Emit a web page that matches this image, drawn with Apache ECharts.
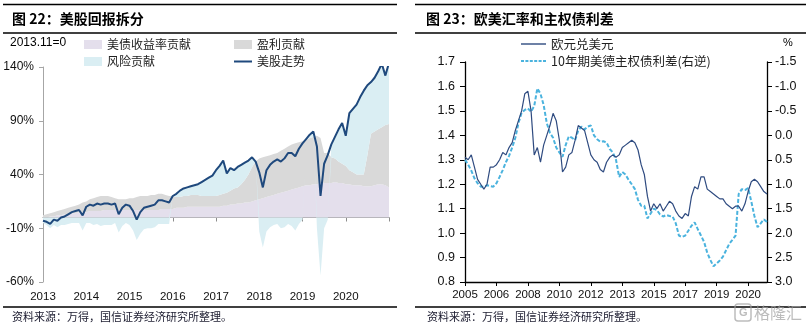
<!DOCTYPE html>
<html><head><meta charset="utf-8">
<script src="https://cdn.jsdelivr.net/npm/echarts@6/dist/echarts.min.js"></script>
<style>html,body{margin:0;padding:0;background:#fff}#c{width:808px;height:326px}</style>
</head><body><div id="c"></div>
<script>
// ---------- Left chart: 美股回报拆分 (monthly, 2013.11 = 0) ----------
const leftYears = ['2013','2014','2015','2016','2017','2018','2019','2020'];
const bondContrib = [0,0,1,1,2,2,3,3,4,4,5,5,5,
 6,6,6,6,7,7,7,7,7,7,7,7,
 7,7,7,7,7,7,7,7,8,8,8,8,
 9,9,9,10,10,10,10,10,10,10,10,10,
 10,11,11,12,12,13,13,14,14,15,16,17,
 18,19,20,21,22,23,24,25,26,27,28,29,
 30,30,31,31,32,32,32,32,33,32,32,31,
 31,30,30,30,29,29,29,30,31,31,30,28];
const earnContrib = [2,3,3,4,4,5,5,6,6,7,7,9,10,
 11,12,13,14,13,13,12,11,10,10,10,11,
 11,12,13,13,13,14,14,15,14,13,12,12,
 10,10,11,10,11,11,11,10,10,10,10,10,
 11,11,12,13,15,15,18,21,26,32,36,38,
 38,38,38,38,38,39,40,41,42,42,42,42,
 42,44,44,45,42,28,28,24,22,20,18,17,
 13,12,10,10,11,29,49,50,51,53,56,59];
const riskContrib = [-5,-7,-10,-7,-9,-7,-7,-6,-5,-5,-5,-12,-5,
 -5,-7,-6,-8,-7,-7,-7,-5,-14,-8,-5,-7,
 -12,-21,-15,-11,-10,-10,-9,-6,-6,-6,-6,0,
 3,6,7,8,8,9,10,13,15,17,19,24,
 27,31,18,21,17,19,18,16,13,9,0,-13,
 -28,-13,-9,-7,-6,-10,-9,-6,-8,-12,-6,-2,
 1,3,5,-10,-54,-10,-2,12,20,30,38,28,
 53,59,65,72,78,65,48,50,54,59,46,57];
const stockTrend = [-3,-4,-6,-2,-3,0,1,3,5,6,7,2,10,
 12,11,13,12,13,13,12,13,3,9,12,11,
 6,-2,5,9,10,11,12,16,16,15,14,20,
 22,25,27,28,29,30,31,33,35,37,39,44,
 48,53,41,46,44,47,49,51,53,56,52,42,
 28,44,49,52,54,52,55,60,60,57,64,69,
 73,77,80,66,20,50,58,68,75,82,88,76,
 97,101,105,112,118,123,126,130,136,143,132,144];

// ---------- Right chart: 欧美汇率和主权债利差 ----------
const rightYears = ['2005','2006','2008','2010','2012','2013','2015','2017','2019','2020'];
const eurUsd = [1.31,1.30,1.32,1.27,1.22,1.20,1.18,1.20,1.27,1.27,
 1.28,1.30,1.33,1.32,1.35,1.37,1.42,1.46,1.50,1.57,
 1.58,1.50,1.32,1.35,1.29,1.36,1.40,1.44,1.49,1.46,
 1.38,1.25,1.27,1.32,1.33,1.38,1.44,1.43,1.42,1.37,
 1.32,1.30,1.29,1.26,1.25,1.29,1.31,1.32,1.31,1.32,
 1.35,1.36,1.37,1.38,1.37,1.34,1.28,1.24,1.15,1.09,
 1.12,1.10,1.12,1.09,1.11,1.13,1.12,1.09,1.07,1.06,
 1.08,1.07,1.15,1.19,1.18,1.23,1.23,1.18,1.17,1.16,
 1.15,1.14,1.14,1.12,1.11,1.10,1.11,1.11,1.09,1.12,
 1.17,1.21,1.22,1.21,1.19,1.17,1.16];
const spread = [0.50,0.60,0.72,0.88,0.98,1.05,1.05,1.02,1.04,1.05,
 0.98,0.85,0.71,0.55,0.42,0.25,0.05,-0.25,-0.46,-0.52,
 -0.55,-0.48,-0.60,-0.96,-0.85,-0.62,-0.25,-0.05,0.05,0.25,
 0.35,0.44,0.20,0.02,0.05,0.10,-0.10,-0.18,-0.12,-0.18,
 -0.20,0.00,0.08,0.13,0.12,0.15,0.28,0.35,0.50,0.85,
 0.75,0.80,0.91,1.00,1.10,1.32,1.44,1.44,1.70,1.60,
 1.50,1.53,1.62,1.66,1.63,1.65,1.66,1.80,2.05,2.08,
 2.05,1.95,1.85,1.78,1.92,2.05,2.18,2.40,2.55,2.68,
 2.62,2.56,2.48,2.35,2.22,2.14,2.05,1.20,1.10,1.12,
 1.08,1.35,1.65,1.88,1.80,1.72,1.77];

const leftCats = stockTrend.map((_, i) => 'L' + i);
const rightCats = eurUsd.map((_, i) => 'R' + i);

const CJK = '"Noto Sans CJK SC", sans-serif';
const LAT = '"Liberation Sans", Arial, sans-serif';
const C_BOND = '#e4dfec', C_EARN = '#d9d9d9', C_RISK = '#daeef3', C_STOCK = '#1f497d';
const C_EUR = '#2f4b80', C_SPR = '#4bb3de';

const ICON_LINE_L = 'path://M0,0h18v2h-18z';
const ICON_LINE_R = 'path://M0,0h25v1.4h-25z';
const ICON_DASH_R = 'path://M0,0h3v2h-3z M4.4,0h3v2h-3z M8.8,0h3v2h-3z M13.2,0h3v2h-3z M17.6,0h3v2h-3z M22,0h3v2h-3z';

const chart = echarts.init(document.getElementById('c'), null, {renderer: 'canvas'});

const hline = (x1, x2, y, w) => ({type: 'line', shape: {x1, y1: y, x2, y2: y}, style: {stroke: '#000', lineWidth: w}, silent: true});
const txt = (x, y, t, o) => ({type: 'text', x, y, style: Object.assign({text: t, fill: '#000', font: '12px ' + CJK, verticalAlign: 'middle'}, o || {}), silent: true});

const legText = {fontFamily: CJK, fontSize: 12, color: '#222', lineHeight: 13};

const option = {
  animation: false,
  backgroundColor: '#fff',
  grid: [
    {left: 43, right: 419, top: 67, bottom: 44},
    {left: 465, right: 41, top: 62, bottom: 44}
  ],
  legend: [
    {left: 79, top: 33, orient: 'vertical', itemGap: 4, itemWidth: 18, itemHeight: 9, symbolKeepAspect: true,
     textStyle: legText,
     data: [{name: '美债收益率贡献', icon: 'rect'}, {name: '风险贡献', icon: 'rect'}]},
    {left: 229, top: 33, orient: 'vertical', itemGap: 4, itemWidth: 18, itemHeight: 9, symbolKeepAspect: true,
     textStyle: legText,
     data: [{name: '盈利贡献', icon: 'rect'}, {name: '美股走势', icon: ICON_LINE_L}]},
    {left: 516, top: 32, orient: 'vertical', itemGap: 3, itemWidth: 25, itemHeight: 9, symbolKeepAspect: true,
     textStyle: {fontFamily: CJK, fontSize: 12.5, color: '#222', lineHeight: 14},
     data: [{name: '欧元兑美元', icon: ICON_LINE_R}, {name: '10年期美德主权债利差(右逆)', icon: ICON_DASH_R}]}
  ],
  xAxis: [
    { // left: labels at bottom
      gridIndex: 0, type: 'category', data: leftCats, boundaryGap: false, position: 'bottom',
      axisLine: {show: false, onZero: false}, axisTick: {show: false}, splitLine: {show: false},
      axisLabel: {interval: (i) => i % 12 === 0 && i < 96, formatter: (v, i) => leftYears[i / 12] || '',
        fontFamily: LAT, fontSize: 11.5, color: '#111', margin: 9}
    },
    { // left: zero line with ticks
      gridIndex: 0, type: 'category', data: leftCats, boundaryGap: false, position: 'bottom',
      axisLine: {show: true, onZero: true, lineStyle: {color: '#8c8c8c', width: 1}},
      axisTick: {show: true, interval: (i) => i % 12 === 0, length: 4, lineStyle: {color: '#8c8c8c'}},
      axisLabel: {show: false}, splitLine: {show: false}
    },
    { // right
      gridIndex: 1, type: 'category', data: rightCats, boundaryGap: false,
      axisLine: {show: true, onZero: false, lineStyle: {color: '#000', width: 1.3}},
      axisTick: {show: true, interval: (i) => i % 10 === 0 && i < 96, length: 4, lineStyle: {color: '#000'}},
      axisLabel: {interval: (i) => i % 10 === 0 && i < 96, formatter: (v, i) => rightYears[i / 10] || '',
        fontFamily: LAT, fontSize: 11.5, color: '#111', margin: 7},
      splitLine: {show: false}
    }
  ],
  yAxis: [
    {gridIndex: 0, type: 'value', min: -60, max: 140, interval: 50,
     axisLine: {show: true, lineStyle: {color: '#a6a6a6'}},
     axisTick: {show: true, length: 4, lineStyle: {color: '#a6a6a6'}},
     splitLine: {show: false},
     axisLabel: {formatter: '{value}%', fontFamily: LAT, fontSize: 12, color: '#111', margin: 9}},
    {gridIndex: 1, type: 'value', min: 0.8, max: 1.7, interval: 0.1, position: 'left',
     axisLine: {show: true, lineStyle: {color: '#000', width: 1.3}},
     axisTick: {show: true, length: 5, lineStyle: {color: '#000'}},
     splitLine: {show: false},
     axisLabel: {formatter: (v) => v.toFixed(1), fontFamily: LAT, fontSize: 12.5, color: '#111', margin: 10}},
    {gridIndex: 1, type: 'value', min: -1.5, max: 3.0, interval: 0.5, inverse: true, position: 'right',
     axisLine: {show: true, lineStyle: {color: '#000', width: 1.3}},
     axisTick: {show: true, length: 5, lineStyle: {color: '#000'}},
     splitLine: {show: false},
     axisLabel: {formatter: (v) => v.toFixed(1), fontFamily: LAT, fontSize: 12.5, color: '#111', margin: 8}}
  ],
  series: [
    {name: '美债收益率贡献', type: 'line', xAxisIndex: 0, yAxisIndex: 0, stack: 'ret', data: bondContrib,
     symbol: 'none', color: C_BOND, lineStyle: {width: 0}, areaStyle: {color: C_BOND, opacity: 1}, z: 1},
    {name: '盈利贡献', type: 'line', xAxisIndex: 0, yAxisIndex: 0, stack: 'ret', data: earnContrib,
     symbol: 'none', color: C_EARN, lineStyle: {width: 0}, areaStyle: {color: C_EARN, opacity: 1}, z: 1},
    {name: '风险贡献', type: 'line', xAxisIndex: 0, yAxisIndex: 0, stack: 'ret', data: riskContrib,
     symbol: 'none', color: C_RISK, lineStyle: {width: 0}, areaStyle: {color: C_RISK, opacity: 1}, z: 1},
    {name: '美股走势', type: 'line', xAxisIndex: 0, yAxisIndex: 0, data: stockTrend,
     symbol: 'none', color: C_STOCK, lineStyle: {width: 2, color: C_STOCK}, z: 3},
    {name: '欧元兑美元', type: 'line', xAxisIndex: 2, yAxisIndex: 1, data: eurUsd,
     symbol: 'none', color: C_EUR, lineStyle: {width: 1.2, color: C_EUR}, z: 3},
    {name: '10年期美德主权债利差(右逆)', type: 'line', xAxisIndex: 2, yAxisIndex: 2, data: spread,
     symbol: 'none', color: C_SPR, lineStyle: {width: 2, color: C_SPR, type: [4, 2]}, z: 2}
  ],
  graphic: [
    hline(3, 397, 4.5, 1.5), hline(3, 397, 33, 1.5), hline(3, 397, 307, 1.5),
    hline(415, 806, 4.5, 1.5), hline(415, 806, 33, 1.5), hline(415, 806, 307, 1.5),
    txt(12, 18.5, '图 22：美股回报拆分', {font: 'bold 14px ' + CJK}),
    txt(426, 18.5, '图 23：欧美汇率和主权债利差', {font: 'bold 14px ' + CJK}),
    txt(10, 43, '2013.11=0', {font: '12px ' + LAT}),
    txt(783, 43, '%', {font: '11px ' + LAT}),
    txt(12, 317, '资料来源：万得，国信证券经济研究所整理。', {font: '11px ' + CJK, fill: '#1a1a2e'}),
    txt(427, 317, '资料来源：万得，国信证券经济研究所整理。', {font: '11px ' + CJK, fill: '#1a1a2e'}),
    {type: 'rect', shape: {x: 735, y: 304, width: 16, height: 17, r: 3}, style: {fill: 'none', stroke: 'rgba(160,160,160,0.7)', lineWidth: 1.5}, silent: true},
    txt(739, 313, 'G', {font: 'bold 11px ' + LAT, fill: 'rgba(160,160,160,0.7)'}),
    txt(754, 313, '格隆汇', {font: '16px ' + CJK, fill: 'rgba(160,160,160,0.7)'})
  ]
};
chart.setOption(option);
</script>
</body></html>
